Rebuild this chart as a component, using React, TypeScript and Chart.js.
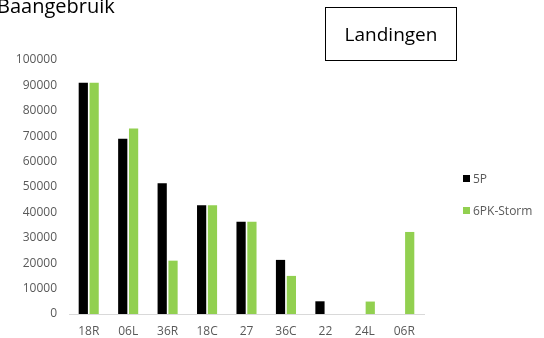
import React, { useEffect, useRef } from "react";
import { Chart, registerables } from "chart.js";

Chart.register(...registerables);

const categories = ["18R", "06L", "36R", "18C", "27", "36C", "22", "24L", "06R"];
const series5P = [91000, 69000, 51500, 42800, 36300, 21300, 5000, 0, 0];
const series6PK = [91000, 73000, 21000, 42800, 36300, 15000, 0, 4900, 32300];
const seriesNames = ["5P", "6PK-Storm"];
const seriesColors = ["#000000", "#92d050"];
const chartTitle = "Baangebruik";
const boxLabel = "Landingen";

const FONT = "'Open Sans', 'Noto Sans', sans-serif";

export default function App() {
  const ref = useRef<HTMLCanvasElement | null>(null);

  useEffect(() => {
    if (!ref.current) return;
    const chart = new Chart(ref.current, {
      type: "bar",
      data: {
        labels: categories,
        datasets: [
          {
            label: seriesNames[0],
            data: series5P,
            backgroundColor: seriesColors[0],
            categoryPercentage: 0.55,
            barPercentage: 0.85,
          },
          {
            label: seriesNames[1],
            data: series6PK,
            backgroundColor: seriesColors[1],
            categoryPercentage: 0.55,
            barPercentage: 0.85,
          },
        ],
      },
      options: {
        animation: false,
        responsive: false,
        maintainAspectRatio: false,
        layout: { padding: { top: 60, right: 120, left: 0, bottom: 0 } },
        plugins: {
          legend: { display: false },
          tooltip: { enabled: false },
          title: { display: false },
        },
        scales: {
          x: {
            grid: { display: false, drawTicks: false },
            border: { display: true, color: "#d9d9d9", width: 1 },
            ticks: {
              color: "#595959",
              font: { family: FONT, size: 12 },
              padding: 10,
              maxRotation: 0,
              autoSkip: false,
            },
            afterFit: (s: any) => {
              s.height = 24;
            },
          },
          y: {
            min: 0,
            max: 100000,
            grid: { display: false, drawTicks: false },
            border: { display: false },
            ticks: {
              stepSize: 10000,
              color: "#595959",
              font: { family: FONT, size: 12 },
              padding: 12,
              callback: (v: any) => String(v),
            },
            afterFit: (s: any) => {
              s.width = 69;
            },
          },
        },
      },
    });
    return () => chart.destroy();
  }, []);

  return (
    <div style={{ position: "fixed", left: 0, top: 0, width: 544, height: 338, background: "#fff", overflow: "hidden" }}>
      <canvas ref={ref} width={544} height={338} style={{ position: "absolute", left: 0, top: 0, width: 544, height: 338 }} />
      <div
        style={{
          position: "absolute",
          left: -3,
          top: -9,
          fontFamily: FONT,
          fontSize: 20,
          lineHeight: "30px",
          color: "#000",
          whiteSpace: "nowrap",
        }}
      >
        {chartTitle}
      </div>
      <div
        style={{
          position: "absolute",
          left: 325,
          top: 7,
          width: 132,
          height: 54,
          border: "1px solid #000",
          boxSizing: "border-box",
          display: "flex",
          alignItems: "center",
          justifyContent: "center",
          fontFamily: FONT,
          fontSize: 19,
          color: "#000",
        }}
      >
        {boxLabel}
      </div>
      {seriesNames.map((name, i) => (
        <div
          key={name}
          style={{
            position: "absolute",
            left: 463,
            top: 170 + i * 32,
            height: 16,
            display: "flex",
            alignItems: "center",
            fontFamily: FONT,
            fontSize: 12,
            color: "#595959",
            whiteSpace: "nowrap",
          }}
        >
          <span style={{ display: "inline-block", width: 7, height: 7, background: seriesColors[i], marginRight: 3 }} />
          {name}
        </div>
      ))}
    </div>
  );
}
